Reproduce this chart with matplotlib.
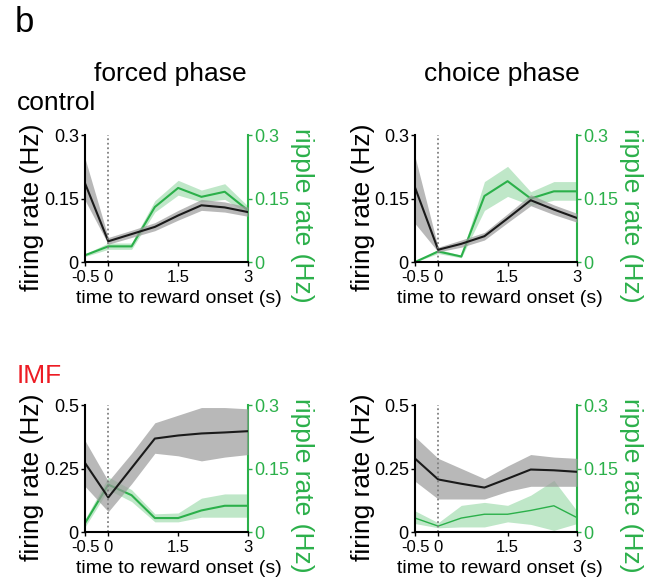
import numpy as np
import matplotlib.pyplot as plt

plt.rcParams["font.family"] = ["Liberation Sans", "DejaVu Sans"]

t = [-0.5, 0, 0.5, 1, 1.5, 2, 2.5, 3]

# control / forced
cf_fr = [0.186, 0.049, 0.066, 0.083, 0.11, 0.134, 0.129, 0.118]
cf_fr_lo = [0.146, 0.042, 0.058, 0.074, 0.099, 0.122, 0.118, 0.108]
cf_fr_hi = [0.245, 0.058, 0.075, 0.093, 0.122, 0.148, 0.142, 0.13]
cf_rp = [0.016, 0.037, 0.037, 0.13, 0.175, 0.154, 0.166, 0.122]
cf_rp_lo = [0.013, 0.03, 0.03, 0.118, 0.158, 0.142, 0.148, 0.114]
cf_rp_hi = [0.019, 0.045, 0.045, 0.145, 0.193, 0.17, 0.185, 0.132]

# control / choice
cc_fr = [0.176, 0.029, 0.043, 0.061, 0.103, 0.146, 0.124, 0.104]
cc_fr_lo = [0.091, 0.024, 0.035, 0.052, 0.093, 0.133, 0.112, 0.094]
cc_fr_hi = [0.249, 0.035, 0.052, 0.07, 0.114, 0.159, 0.135, 0.115]
cc_rp = [0.0, 0.025, 0.013, 0.156, 0.191, 0.15, 0.167, 0.167]
cc_rp_lo = [0.0, 0.02, 0.01, 0.122, 0.155, 0.134, 0.146, 0.146]
cc_rp_hi = [0.0, 0.03, 0.016, 0.19, 0.226, 0.166, 0.19, 0.19]

# IMF / forced
if_fr = [0.272, 0.136, 0.252, 0.368, 0.38, 0.388, 0.392, 0.397]
if_fr_lo = [0.18, 0.08, 0.19, 0.31, 0.3, 0.28, 0.295, 0.305]
if_fr_hi = [0.36, 0.2, 0.31, 0.43, 0.46, 0.49, 0.49, 0.485]
if_rp = [0.021, 0.112, 0.087, 0.033, 0.033, 0.051, 0.062, 0.062]
if_rp_lo = [0.012, 0.1, 0.072, 0.024, 0.024, 0.035, 0.035, 0.035]
if_rp_hi = [0.03, 0.13, 0.1, 0.043, 0.045, 0.08, 0.09, 0.09]

# IMF / choice
ic_fr = [0.289, 0.207, 0.19, 0.175, 0.21, 0.246, 0.243, 0.237]
ic_fr_lo = [0.2, 0.13, 0.13, 0.13, 0.16, 0.18, 0.18, 0.18]
ic_fr_hi = [0.375, 0.29, 0.25, 0.21, 0.26, 0.305, 0.295, 0.29]
ic_rp = [0.033, 0.014, 0.033, 0.042, 0.042, 0.051, 0.062, 0.034]
ic_rp_lo = [0.02, 0.01, 0.012, 0.012, 0.024, 0.018, 0.004, 0.02]
ic_rp_hi = [0.05, 0.022, 0.063, 0.07, 0.063, 0.087, 0.122, 0.05]

GREEN = "#2bb04a"
RED = "#ed1c24"

panels = [
    (cf_fr, cf_fr_lo, cf_fr_hi, cf_rp, cf_rp_lo, cf_rp_hi, 0.3, [0, 0.15, 0.3], ["0", "0.15", "0.3"], 1.5),
    (cc_fr, cc_fr_lo, cc_fr_hi, cc_rp, cc_rp_lo, cc_rp_hi, 0.3, [0, 0.15, 0.3], ["0", "0.15", "0.3"], 1.5),
    (if_fr, if_fr_lo, if_fr_hi, if_rp, if_rp_lo, if_rp_hi, 0.5, [0, 0.25, 0.5], ["0", "0.25", "0.5"], 1.5),
    (ic_fr, ic_fr_lo, ic_fr_hi, ic_rp, ic_rp_lo, ic_rp_hi, 0.5, [0, 0.25, 0.5], ["0", "0.25", "0.5"], 1.0),
]
boxes = [
    [0.1284, 0.549, 0.2462, 0.2186],
    [0.6269, 0.549, 0.2447, 0.2186],
    [0.1284, 0.0843, 0.2462, 0.2186],
    [0.6269, 0.0843, 0.2447, 0.2186],
]
xlab_x = [0.578, 0.525, 0.578, 0.525]

fig = plt.figure(figsize=(6.62, 5.81), dpi=100)

for box, lx, (fr, lo, hi, rp, rlo, rhi, ymax, yt, ytl, glw) in zip(boxes, xlab_x, panels):
    ax = fig.add_axes(box)
    ax2 = ax.twinx()
    ax.set_zorder(ax2.get_zorder() + 1)
    ax.patch.set_visible(False)

    ax2.fill_between(t, rlo, rhi, color=GREEN, alpha=0.3, lw=0)
    ax2.plot(t, rp, color=GREEN, lw=glw)
    ax.fill_between(t, lo, hi, color="#9a9a9a", alpha=0.7, lw=0)
    ax.plot(t, fr, color="#1a1a1a", lw=1.5)
    ax.axvline(0, color="#808080", ls=(0, (1, 1.5)), lw=1.3)

    ax.set_xlim(-0.5, 3)
    ax.set_ylim(0, ymax)
    ax2.set_ylim(0, 0.3)
    ax.set_xticks([-0.5, 0, 1.5, 3])
    ax.set_xticklabels(["-0.5", "0", "1.5", "3"], fontsize=12)
    ax.set_yticks(yt)
    ax.set_yticklabels(ytl, fontsize=13)
    ax2.set_yticks([0, 0.15, 0.3])
    ax2.set_yticklabels(["0", "0.15", "0.3"], fontsize=13, color=GREEN)

    for a in (ax, ax2):
        a.spines["top"].set_visible(False)
        a.spines["left"].set_linewidth(1.5)
        a.spines["bottom"].set_linewidth(1.5)
        a.spines["right"].set_linewidth(1.5)
    ax.spines["right"].set_visible(False)
    ax2.spines["left"].set_visible(False)
    ax2.spines["bottom"].set_visible(False)
    ax2.spines["right"].set_color(GREEN)
    ax.tick_params(axis="x", length=3, width=1.0, pad=3)
    ax.tick_params(axis="y", length=3, width=1.0, pad=1.5)
    ax2.tick_params(length=3, width=1.0, pad=1.5, color=GREEN)

    ax.set_xlabel("time to reward onset (s)", fontsize=14)
    ax.xaxis.set_label_coords(lx, -0.22)
    ax.set_ylabel("firing rate (Hz)", fontsize=19)
    ax.yaxis.set_label_coords(-0.25, 0.43)
    ax2.set_ylabel("ripple rate (Hz)", fontsize=19, color=GREEN, rotation=-90, va="bottom")
    ax2.yaxis.set_label_coords(1.258, 0.37)

fig.text(0.022, 0.945, "b", fontsize=25, va="baseline")
fig.text(0.257, 0.872, "forced phase", fontsize=19, ha="center", va="center")
fig.text(0.758, 0.872, "choice phase", fontsize=19, ha="center", va="center")
fig.text(0.025, 0.822, "control", fontsize=19, va="center")
fig.text(0.025, 0.353, "IMF", fontsize=19, va="center", color=RED)

fig.savefig("out.png", dpi=100)
